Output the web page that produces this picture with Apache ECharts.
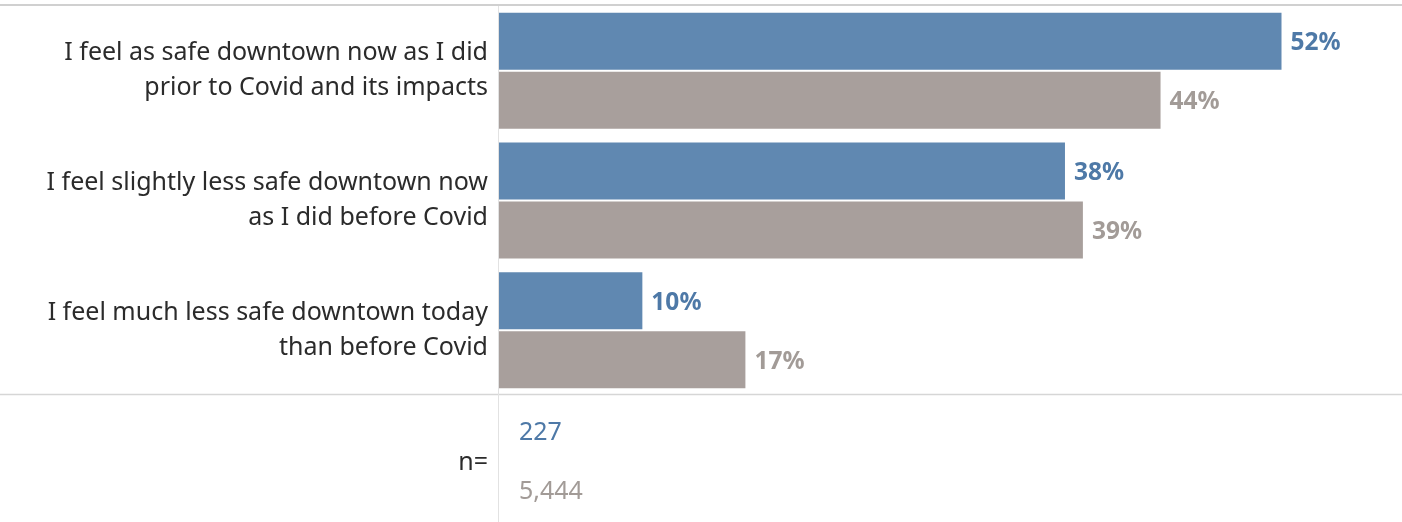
<!DOCTYPE html>
<html><head><meta charset="utf-8">
<script src="https://cdn.jsdelivr.net/npm/echarts@6/dist/echarts.min.js"></script>
<style>html,body{margin:0;padding:0;background:#fff}#c{width:1402px;height:522px}</style>
</head><body><div id="c"></div>
<script>
var categories = [
  "I feel as safe downtown now as I did\nprior to Covid and its impacts",
  "I feel slightly less safe downtown now\nas I did before Covid",
  "I feel much less safe downtown today\nthan before Covid"
];
var seriesNames = ["Downtown", "All"];
var blueValues = [52.4, 37.9, 9.6];
var grayValues = [44.3, 39.1, 16.5];
var nLabel = "n=";
var nValues = ["227", "5,444"];

var BLUE = "#6088b1", GRAY = "#a89f9c", BLUE_T = "#4e79a7", GRAY_T = "#a29b97";
var FONT = "Noto Sans";
var chart = echarts.init(document.getElementById('c'), null, {renderer: 'canvas'});
function lbl(color) {
  return {show: true, position: 'right', distance: 9, offset: [0, 2], formatter: function (p) { return Math.round(p.value) + '%'; },
    color: color, fontFamily: FONT, fontWeight: 'bold', fontSize: 24.5};
}
chart.setOption({
  animation: false,
  grid: {left: 499, top: 6, width: 896, height: 389, containLabel: false},
  xAxis: {type: 'value', min: 0, max: 60, show: false},
  yAxis: {type: 'category', data: categories, inverse: true,
    axisLine: {show: false}, axisTick: {show: false}, splitLine: {show: false},
    axisLabel: {margin: 11, color: '#2b2b2b', fontFamily: FONT, fontSize: 25, lineHeight: 35, align: 'right'}},
  series: [
    {name: seriesNames[0], type: 'bar', data: blueValues, barWidth: 57, barGap: '3.5%',
      itemStyle: {color: BLUE}, label: lbl(BLUE_T)},
    {name: seriesNames[1], type: 'bar', data: grayValues, barWidth: 57,
      itemStyle: {color: GRAY}, label: lbl(GRAY_T)}
  ],
  graphic: [
    {type: 'line', shape: {x1: 0, y1: 5, x2: 1402, y2: 5}, style: {stroke: '#d0d0d0', lineWidth: 2}},
    {type: 'line', shape: {x1: 0, y1: 394.5, x2: 1402, y2: 394.5}, style: {stroke: '#d6d6d6', lineWidth: 1.5}},
    {type: 'line', shape: {x1: 498.5, y1: 6, x2: 498.5, y2: 522}, style: {stroke: '#e2e2e2', lineWidth: 1}},
    {type: 'text', style: {text: nLabel, x: 488, y: 463, align: 'right', verticalAlign: 'middle', fill: '#2b2b2b', font: '25px "' + FONT + '"'}},
    {type: 'text', style: {text: nValues[0], x: 519, y: 433, align: 'left', verticalAlign: 'middle', fill: BLUE_T, font: '25px "' + FONT + '"'}},
    {type: 'text', style: {text: nValues[1], x: 519, y: 492, align: 'left', verticalAlign: 'middle', fill: GRAY_T, font: '25px "' + FONT + '"'}}
  ]
});
</script></body></html>
